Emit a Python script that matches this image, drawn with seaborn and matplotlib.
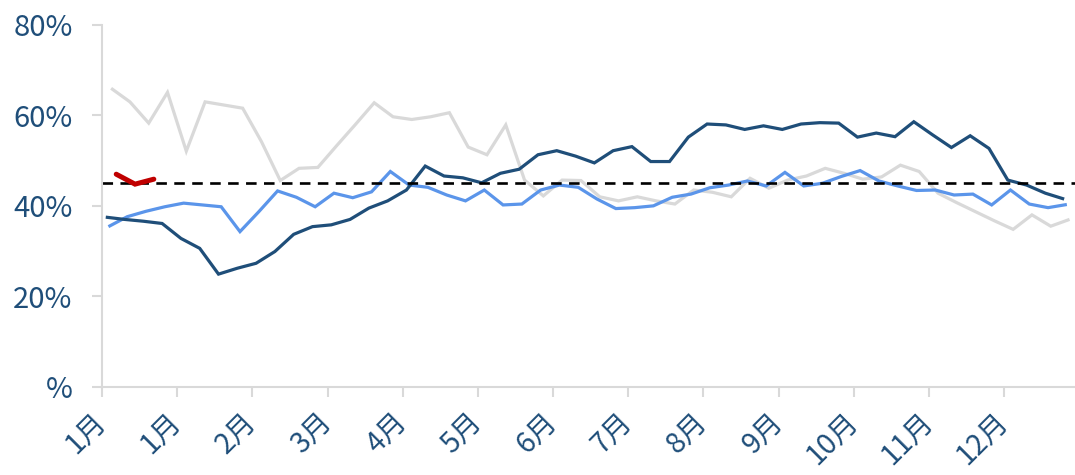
import numpy as np
import pandas as pd
import matplotlib
matplotlib.use("Agg")
import matplotlib.pyplot as plt
import seaborn as sns

# Weekly shares (%) for each year, plotted on a common day-of-year axis
gray_vals = [66.0, 63.0, 58.3, 65.1, 52.1, 63.0, 62.3, 61.6, 54.2, 45.6,
             48.3, 48.5, 53.3, 58.0, 62.8, 59.7, 59.1, 59.7, 60.6, 53.0,
             51.3, 57.9, 45.7, 42.2, 45.7, 45.6, 42.0, 41.1, 42.0, 41.1,
             40.4, 43.5, 43.0, 42.0, 46.1, 43.9, 45.7, 46.6, 48.3, 47.2,
             45.9, 46.4, 49.0, 47.6, 42.8, 40.7, 38.7, 36.7, 34.8, 38.0,
             35.5, 37.0]
light_vals = [35.4, 37.6, 38.8, 39.8, 40.6, 40.2, 39.8, 34.3, 38.7, 43.3,
              41.9, 39.8, 42.8, 41.8, 43.1, 47.6, 44.6, 44.1, 42.4, 41.1,
              43.5, 40.2, 40.4, 43.5, 44.6, 44.1, 41.5, 39.4, 39.6, 40.0,
              41.9, 42.6, 44.0, 44.6, 45.5, 44.4, 47.4, 44.4, 45.0, 46.5,
              47.8, 45.5, 44.4, 43.4, 43.5, 42.4, 42.6, 40.2, 43.5, 40.4,
              39.6, 40.3]
dark_vals = [37.5, 37.0, 36.6, 36.1, 32.8, 30.6, 24.9, 26.2, 27.3, 29.9,
             33.7, 35.4, 35.8, 37.0, 39.5, 41.1, 43.5, 48.8, 46.6, 46.2,
             45.1, 47.2, 48.1, 51.3, 52.2, 51.0, 49.5, 52.2, 53.1, 49.8,
             49.8, 55.2, 58.1, 57.9, 56.9, 57.7, 56.9, 58.1, 58.4, 58.3,
             55.2, 56.1, 55.3, 58.6, 55.7, 52.9, 55.5, 52.7, 45.7, 44.6,
             42.8, 41.5]
red_vals = [47.0, 44.8, 45.9]

# day of year (0 = 1 Jan) of each series' first weekly observation
first_day = {"gray": 3.4, "light": 2.4, "dark": 1.4, "red": 5.3}
reference_level = 45.0

tick_days = [0, 28, 56, 84, 112, 140, 168, 196, 224, 252, 280, 308, 336]
tick_labels = ["1月", "1月", "2月", "3月", "4月", "5月", "6月", "7月",
               "8月", "9月", "10月", "11月", "12月"]
y_ticks = [0, 20, 40, 60, 80]
y_labels = ["%", "20%", "40%", "60%", "80%"]


def weekly(name, values):
    days = first_day[name] + 7 * np.arange(len(values))
    return pd.DataFrame({"day": days, "share": values, "series": name})


df = pd.concat([weekly("gray", gray_vals), weekly("light", light_vals),
                weekly("dark", dark_vals), weekly("red", red_vals)],
               ignore_index=True)

sns.set_theme(style="white")
plt.rcParams["font.family"] = ["Noto Sans CJK SC", "DejaVu Sans"]

label_color = "#1f4e79"
axis_color = "#d9d9d9"

fig = plt.figure(figsize=(10.75, 4.75), dpi=100)
ax = fig.add_axes([102 / 1075, 88.3 / 475, 973 / 1075, 361.7 / 475])

styles = {
    "gray": dict(color="#d9d9d9", lw=2.3),
    "light": dict(color="#5b95ea", lw=2.3),
    "dark": dict(color="#1f4e79", lw=2.3),
}
for name in ["gray", "light", "dark"]:
    sns.lineplot(data=df[df.series == name], x="day", y="share", ax=ax,
                 color=styles[name]["color"], linewidth=styles[name]["lw"],
                 legend=False, solid_capstyle="butt", solid_joinstyle="miter")

ax.axhline(reference_level, color="black", lw=1.9, dashes=(4, 2.8))

sns.lineplot(data=df[df.series == "red"], x="day", y="share", ax=ax,
             color="#c00000", linewidth=3.6, legend=False,
             solid_capstyle="round", solid_joinstyle="miter")

ax.set_xlim(0, 973 / 2.6846)
ax.set_ylim(0, 80)
ax.set_xlabel("")
ax.set_ylabel("")

ax.set_yticks(y_ticks)
ax.set_yticklabels(y_labels)
ax.set_xticks(tick_days)
ax.set_xticklabels(tick_labels)

for side in ["top", "right"]:
    ax.spines[side].set_visible(False)
for side in ["left", "bottom"]:
    ax.spines[side].set_color(axis_color)
    ax.spines[side].set_linewidth(1.5)

ax.tick_params(axis="both", which="major", direction="out", length=7.2,
               width=1.5, color=axis_color, labelcolor=label_color,
               labelsize=21)
ax.tick_params(axis="y", pad=14)
ax.tick_params(axis="x", pad=15, labelsize=20.5)
ax.tick_params(left=True, bottom=True)
plt.setp(ax.get_xticklabels(), rotation=45, ha="right", va="center",
         rotation_mode="anchor")
ax.grid(False)

fig.savefig("out.png", dpi=100)
